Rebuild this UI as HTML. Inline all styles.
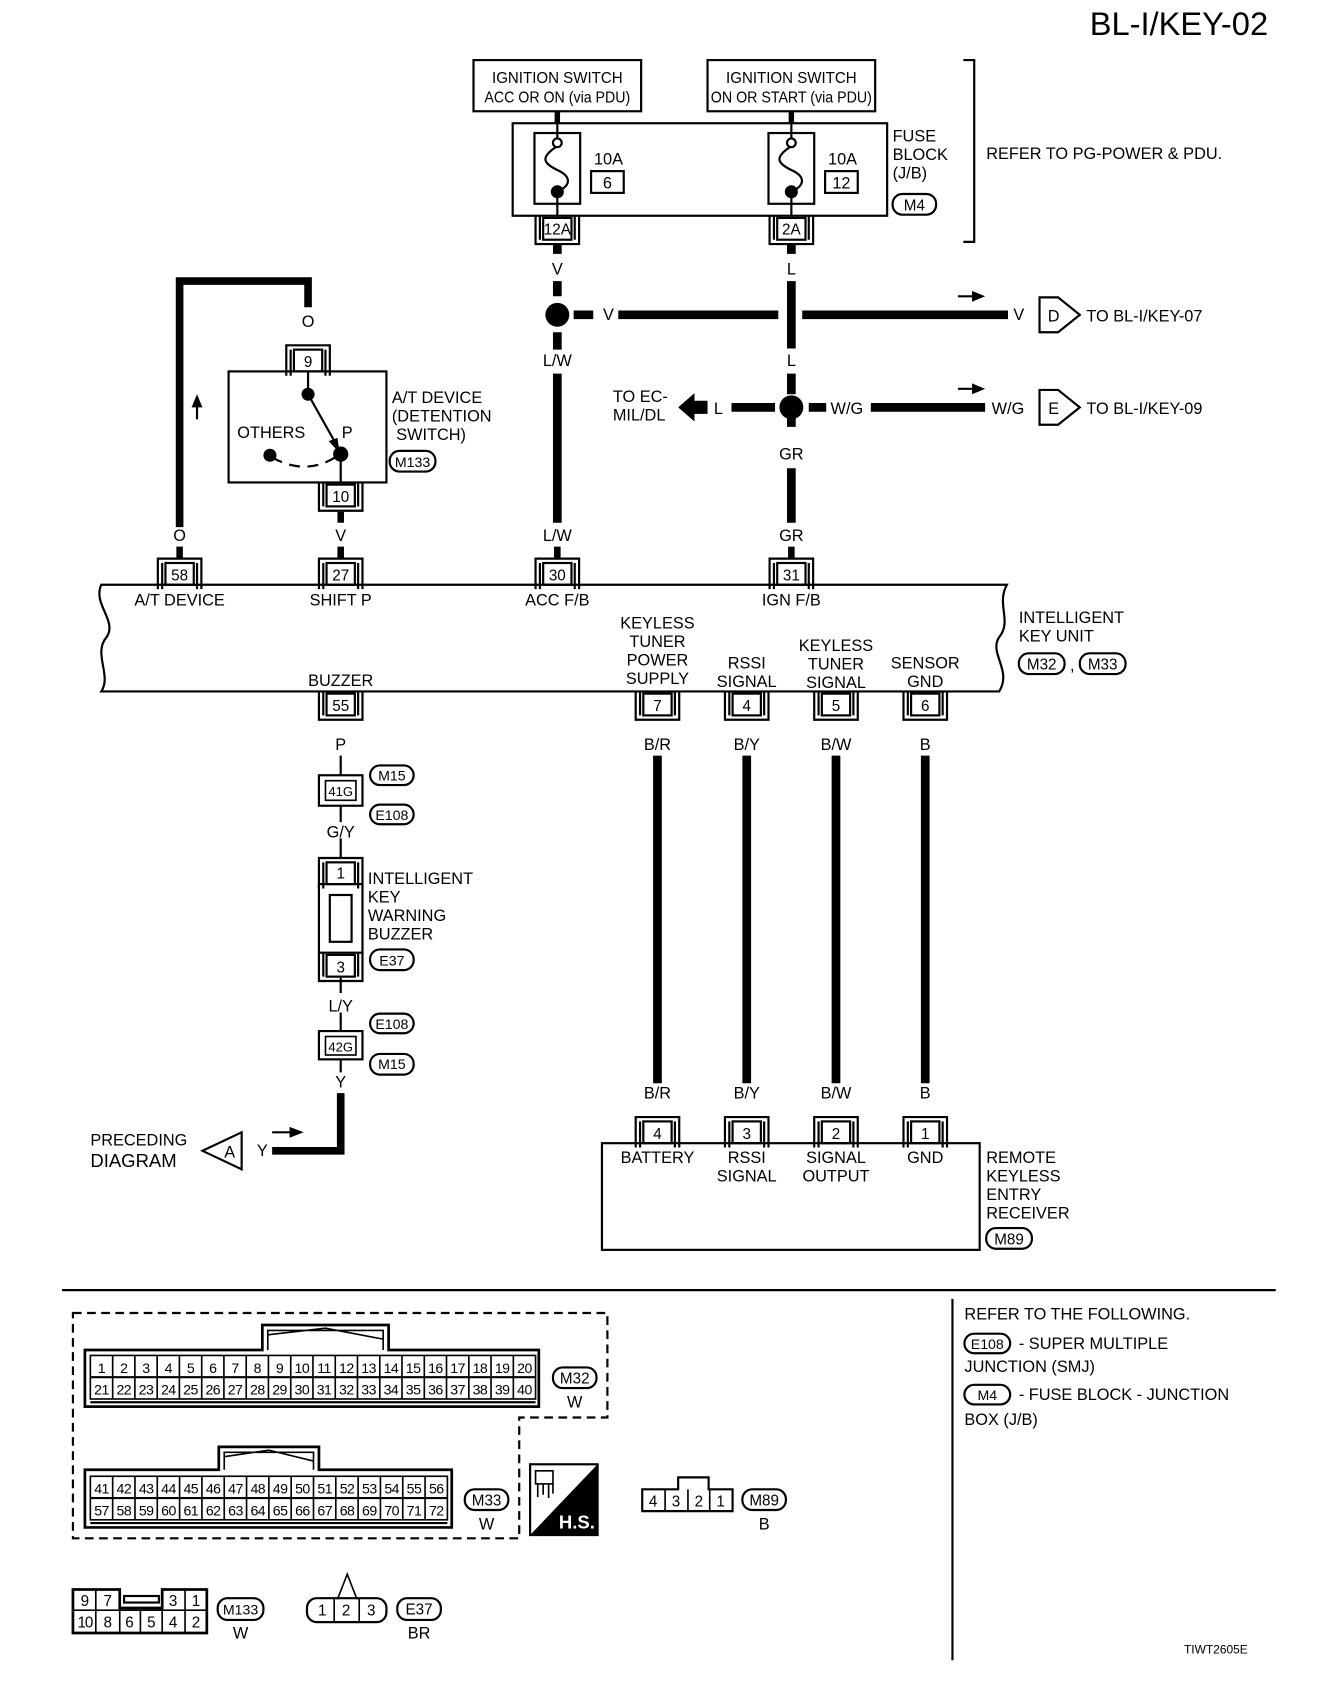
<!DOCTYPE html>
<html><head><meta charset="utf-8"><style>
html,body{margin:0;padding:0;background:#fff;}
svg{display:block;}
text{font-family:"Liberation Sans",sans-serif;fill:#000;}
</style></head><body>
<svg width="1328" height="1704" viewBox="0 0 1220 1565" xmlns="http://www.w3.org/2000/svg">
<defs>
<g id="ctop"><rect x="-13" y="0" width="26" height="20" fill="#fff" stroke="#000" stroke-width="2"/><path d="M-20 24 V-4 H20 V24 M-16 24 V0 M16 24 V0" fill="none" stroke="#000" stroke-width="2"/></g>
<g id="cbot"><rect x="-13" y="0" width="26" height="20" fill="#fff" stroke="#000" stroke-width="2"/><path d="M-20 -2 V24 H20 V-2 M-16 -2 V20 M16 -2 V20" fill="none" stroke="#000" stroke-width="2"/></g>
</defs>
<g font-size="15">
<text x="1165" y="32" font-size="30" text-anchor="end">BL-I/KEY-02</text>

<rect x="435" y="55" width="154" height="47" fill="none" stroke="#000" stroke-width="2"/>
<text x="512" y="76" text-anchor="middle" font-size="14" textLength="120" lengthAdjust="spacingAndGlyphs">IGNITION SWITCH</text>
<text x="512" y="94" text-anchor="middle" font-size="14" textLength="134" lengthAdjust="spacingAndGlyphs">ACC OR ON (via PDU)</text>
<rect x="650" y="55" width="154" height="47" fill="none" stroke="#000" stroke-width="2"/>
<text x="727" y="76" text-anchor="middle" font-size="14" textLength="120" lengthAdjust="spacingAndGlyphs">IGNITION SWITCH</text>
<text x="727" y="94" text-anchor="middle" font-size="14" textLength="148" lengthAdjust="spacingAndGlyphs">ON OR START (via PDU)</text>
<path d="M512 102 V113 M727 102 V113" stroke="#000" stroke-width="5"/>

<rect x="471" y="113" width="344" height="85" fill="none" stroke="#000" stroke-width="2"/>
<g fill="none" stroke="#000" stroke-width="2">
<rect x="491" y="122" width="42" height="65"/><rect x="706" y="122" width="42" height="65"/>
<path d="M512 113 V128 M512 176 V198 M727 113 V128 M727 176 V198"/>
<path d="M512 134 C495 145, 500 150, 512 156 C525 162, 525 170, 512 176"/>
<path d="M727 134 C710 145, 715 150, 727 156 C740 162, 740 170, 727 176"/>
<circle cx="512" cy="131" r="4" fill="#fff"/><circle cx="727" cy="131" r="4" fill="#fff"/>
<rect x="543" y="157" width="30" height="20"/><rect x="758" y="157" width="30" height="20"/>
</g>
<circle cx="512" cy="176" r="6"/><circle cx="727" cy="176" r="6"/>
<text x="559" y="151" text-anchor="middle">10A</text><text x="558" y="173" text-anchor="middle">6</text>
<text x="774" y="151" text-anchor="middle">10A</text><text x="773" y="173" text-anchor="middle">12</text>
<text x="820" y="130">FUSE</text><text x="820" y="147">BLOCK</text><text x="820" y="164">(J/B)</text>
<rect x="820" y="178" width="40" height="19" rx="9" fill="none" stroke="#000" stroke-width="2"/><text x="840" y="193" text-anchor="middle" font-size="14">M4</text>
<path d="M885 55 H895 V222 H885" fill="none" stroke="#000" stroke-width="2"/>
<text x="906" y="146">REFER TO PG-POWER &amp; PDU.</text>
<use href="#cbot" x="512" y="200"/><text x="512" y="215" text-anchor="middle" font-size="14">12A</text>
<use href="#cbot" x="727" y="200"/><text x="727" y="215" text-anchor="middle" font-size="14">2A</text>

<g stroke="#000" stroke-width="8" fill="none">
<path d="M512 224 V233 M727 224 V233"/>
<path d="M512 258 V272 M512 305 V321 M512 343 V480"/>
<path d="M727 258 V320 M727 343 V362 M727 383 V392 M727 430 V480"/>
<path d="M527 289 H545 M568 289 H715 M737 289 H926"/>
<path d="M672 374 H712 M743 374 H759 M800 374 H905"/>
</g>
<circle cx="512" cy="289" r="11"/><circle cx="727" cy="374" r="11"/>
<text x="512" y="252" text-anchor="middle">V</text><text x="727" y="252" text-anchor="middle">L</text>
<text x="559" y="294" text-anchor="middle">V</text><text x="936" y="294" text-anchor="middle">V</text>
<text x="512" y="336" text-anchor="middle">L/W</text><text x="727" y="336" text-anchor="middle">L</text>
<text x="727" y="422" text-anchor="middle">GR</text>
<text x="512" y="497" text-anchor="middle">L/W</text><text x="727" y="497" text-anchor="middle">GR</text>
<path d="M880 272 H895" stroke="#000" stroke-width="2"/><path d="M893 267 L905 272 L893 277Z"/>
<path d="M880 357 H895" stroke="#000" stroke-width="2"/><path d="M893 352 L905 357 L893 362Z"/>
<path d="M955 273 H972 L992 289 L972 305 H955 Z" fill="none" stroke="#000" stroke-width="2"/><text x="968" y="295" text-anchor="middle">D</text>
<text x="998" y="295">TO BL-I/KEY-07</text>
<path d="M955 358 H972 L992 374 L972 390 H955 Z" fill="none" stroke="#000" stroke-width="2"/><text x="968" y="380" text-anchor="middle">E</text>
<text x="998" y="380">TO BL-I/KEY-09</text>
<text x="778" y="380" text-anchor="middle">W/G</text><text x="926" y="380" text-anchor="middle">W/G</text>
<text x="660" y="380" text-anchor="middle">L</text>
<path d="M623 374 L638 361 V368 H650 V380 H638 V387Z"/>
<text x="563" y="369">TO EC-</text><text x="563" y="386">MIL/DL</text>

<path d="M165 484 V258 H283 V282" fill="none" stroke="#000" stroke-width="7"/>
<text x="283" y="300" text-anchor="middle">O</text>
<path d="M181 385 V372" stroke="#000" stroke-width="2"/><path d="M176 374 L181 362 L186 374Z"/>

<use href="#ctop" x="283" y="321"/><text x="283" y="337" text-anchor="middle" font-size="14">9</text>
<rect x="210" y="341" width="145" height="102" fill="none" stroke="#000" stroke-width="2"/>
<path d="M283 341 V362 M313 417 V443" stroke="#000" stroke-width="2"/>
<path d="M283 362 L310 410" stroke="#000" stroke-width="2"/><path d="M302 405 L312 416 L310 402Z"/>
<path d="M250 420 Q280 437 308 420" fill="none" stroke="#000" stroke-width="2" stroke-dasharray="10 7"/>
<circle cx="283" cy="362" r="6"/><circle cx="313" cy="417" r="7"/><circle cx="248" cy="418" r="6"/>
<text x="218" y="402">OTHERS</text><text x="314" y="402">P</text>
<text x="360" y="370">A/T DEVICE</text><text x="360" y="387">(DETENTION</text><text x="364" y="404">SWITCH)</text>
<rect x="358" y="414" width="42" height="19" rx="9" fill="none" stroke="#000" stroke-width="2"/><text x="379" y="429" text-anchor="middle" font-size="13">M133</text>
<use href="#cbot" x="313" y="445"/><text x="313" y="461" text-anchor="middle" font-size="14">10</text>
<text x="313" y="497" text-anchor="middle">V</text><text x="165" y="497" text-anchor="middle">O</text>
<path d="M313 470 V480" stroke="#000" stroke-width="6"/>
<path d="M165 502 V513 M313 502 V513 M512 502 V513 M727 502 V513" stroke="#000" stroke-width="6"/>

<use href="#ctop" x="165" y="517"/><text x="165" y="533" text-anchor="middle" font-size="14">58</text>
<use href="#ctop" x="313" y="517"/><text x="313" y="533" text-anchor="middle" font-size="14">27</text>
<use href="#ctop" x="512" y="517"/><text x="512" y="533" text-anchor="middle" font-size="14">30</text>
<use href="#ctop" x="727" y="517"/><text x="727" y="533" text-anchor="middle" font-size="14">31</text>

<path d="M93 537 H925 C915 555, 930 570, 918 585 C908 600, 930 615, 918 635 H93 C103 620, 85 600, 98 585 C108 570, 85 555, 93 537 Z" fill="none" stroke="#000" stroke-width="2"/>
<text x="165" y="556" text-anchor="middle">A/T DEVICE</text><text x="313" y="556" text-anchor="middle">SHIFT P</text>
<text x="512" y="556" text-anchor="middle">ACC F/B</text><text x="727" y="556" text-anchor="middle">IGN F/B</text>
<text x="313" y="630" text-anchor="middle">BUZZER</text>
<text x="604" y="577" text-anchor="middle">KEYLESS</text><text x="604" y="594" text-anchor="middle">TUNER</text><text x="604" y="611" text-anchor="middle">POWER</text><text x="604" y="628" text-anchor="middle">SUPPLY</text>
<text x="686" y="614" text-anchor="middle">RSSI</text><text x="686" y="631" text-anchor="middle">SIGNAL</text>
<text x="768" y="598" text-anchor="middle">KEYLESS</text><text x="768" y="615" text-anchor="middle">TUNER</text><text x="768" y="632" text-anchor="middle">SIGNAL</text>
<text x="850" y="614" text-anchor="middle">SENSOR</text><text x="850" y="631" text-anchor="middle">GND</text>
<text x="936" y="572">INTELLIGENT</text><text x="936" y="589">KEY UNIT</text>
<rect x="936" y="600" width="42" height="19" rx="9" fill="none" stroke="#000" stroke-width="2"/><text x="957" y="615" text-anchor="middle" font-size="14">M32</text>
<text x="983" y="616">,</text>
<rect x="992" y="600" width="42" height="19" rx="9" fill="none" stroke="#000" stroke-width="2"/><text x="1013" y="615" text-anchor="middle" font-size="14">M33</text>

<use href="#cbot" x="313" y="637"/><text x="313" y="653" text-anchor="middle" font-size="14">55</text>
<use href="#cbot" x="604" y="637"/><text x="604" y="653" text-anchor="middle" font-size="14">7</text>
<use href="#cbot" x="686" y="637"/><text x="686" y="653" text-anchor="middle" font-size="14">4</text>
<use href="#cbot" x="768" y="637"/><text x="768" y="653" text-anchor="middle" font-size="14">5</text>
<use href="#cbot" x="850" y="637"/><text x="850" y="653" text-anchor="middle" font-size="14">6</text>
<text x="313" y="689" text-anchor="middle">P</text>
<text x="604" y="689" text-anchor="middle">B/R</text><text x="686" y="689" text-anchor="middle">B/Y</text><text x="768" y="689" text-anchor="middle">B/W</text><text x="850" y="689" text-anchor="middle">B</text>
<path d="M604 694 V995 M686 694 V995 M768 694 V995 M850 694 V995" stroke="#000" stroke-width="8"/>
<text x="604" y="1009" text-anchor="middle">B/R</text><text x="686" y="1009" text-anchor="middle">B/Y</text><text x="768" y="1009" text-anchor="middle">B/W</text><text x="850" y="1009" text-anchor="middle">B</text>
<use href="#ctop" x="604" y="1030"/><text x="604" y="1046" text-anchor="middle" font-size="14">4</text>
<use href="#ctop" x="686" y="1030"/><text x="686" y="1046" text-anchor="middle" font-size="14">3</text>
<use href="#ctop" x="768" y="1030"/><text x="768" y="1046" text-anchor="middle" font-size="14">2</text>
<use href="#ctop" x="850" y="1030"/><text x="850" y="1046" text-anchor="middle" font-size="14">1</text>
<rect x="553" y="1050" width="347" height="98" fill="none" stroke="#000" stroke-width="2"/>
<text x="604" y="1068" text-anchor="middle">BATTERY</text>
<text x="686" y="1068" text-anchor="middle">RSSI</text><text x="686" y="1085" text-anchor="middle">SIGNAL</text>
<text x="768" y="1068" text-anchor="middle">SIGNAL</text><text x="768" y="1085" text-anchor="middle">OUTPUT</text>
<text x="850" y="1068" text-anchor="middle">GND</text>
<text x="906" y="1068">REMOTE</text><text x="906" y="1085">KEYLESS</text><text x="906" y="1102">ENTRY</text><text x="906" y="1119">RECEIVER</text>
<rect x="906" y="1128" width="42" height="19" rx="9" fill="none" stroke="#000" stroke-width="2"/><text x="927" y="1143" text-anchor="middle" font-size="14">M89</text>

<path d="M313 694 V712 M313 740 V755 M313 770 V788 M313 898 V912 M313 930 V947 M313 973 V985" stroke="#000" stroke-width="2"/>
<rect x="293" y="712" width="40" height="28" fill="none" stroke="#000" stroke-width="2"/><rect x="299" y="717" width="28" height="18" fill="none" stroke="#000" stroke-width="1.5"/><text x="313" y="731" text-anchor="middle" font-size="12">41G</text>
<rect x="340" y="703" width="40" height="18" rx="9" fill="none" stroke="#000" stroke-width="2"/><text x="360" y="717" text-anchor="middle" font-size="13">M15</text>
<rect x="340" y="739" width="40" height="18" rx="9" fill="none" stroke="#000" stroke-width="2"/><text x="360" y="753" text-anchor="middle" font-size="13">E108</text>
<text x="313" y="769" text-anchor="middle">G/Y</text>
<use href="#ctop" x="313" y="792"/><text x="313" y="807" text-anchor="middle" font-size="14">1</text>
<rect x="293" y="812" width="40" height="63" fill="none" stroke="#000" stroke-width="2"/>
<rect x="303" y="822" width="20" height="43" fill="none" stroke="#000" stroke-width="2"/>
<use href="#cbot" x="313" y="877"/><text x="313" y="893" text-anchor="middle" font-size="14">3</text>
<text x="338" y="812">INTELLIGENT</text><text x="338" y="829">KEY</text><text x="338" y="846">WARNING</text><text x="338" y="863">BUZZER</text>
<rect x="340" y="872" width="40" height="19" rx="9" fill="none" stroke="#000" stroke-width="2"/><text x="360" y="887" text-anchor="middle" font-size="13">E37</text>
<text x="313" y="929" text-anchor="middle">L/Y</text>
<rect x="340" y="931" width="40" height="18" rx="9" fill="none" stroke="#000" stroke-width="2"/><text x="360" y="945" text-anchor="middle" font-size="13">E108</text>
<rect x="293" y="947" width="40" height="26" fill="none" stroke="#000" stroke-width="2"/><rect x="299" y="952" width="28" height="17" fill="none" stroke="#000" stroke-width="1.5"/><text x="313" y="966" text-anchor="middle" font-size="12">42G</text>
<rect x="340" y="968" width="40" height="19" rx="9" fill="none" stroke="#000" stroke-width="2"/><text x="360" y="982" text-anchor="middle" font-size="13">M15</text>
<text x="313" y="999" text-anchor="middle">Y</text>
<path d="M313 1004 V1057 H250" fill="none" stroke="#000" stroke-width="7"/>
<path d="M250 1040 H268" stroke="#000" stroke-width="2"/><path d="M266 1035 L279 1040 L266 1045Z"/>
<text x="241" y="1062" text-anchor="middle">Y</text>
<path d="M222 1040 V1074 L186 1057 Z" fill="none" stroke="#000" stroke-width="2"/><text x="211" y="1063" text-anchor="middle">A</text>
<text x="83" y="1052">PRECEDING</text><text x="83" y="1072" font-size="17">DIAGRAM</text>

<path d="M57 1185 H1172" stroke="#000" stroke-width="2"/>
<path d="M875 1193 V1525" stroke="#000" stroke-width="2"/>
<text x="886" y="1212">REFER TO THE FOLLOWING.</text>
<rect x="886" y="1225" width="42" height="18" rx="9" fill="none" stroke="#000" stroke-width="2"/><text x="907" y="1239" text-anchor="middle" font-size="13">E108</text>
<text x="936" y="1239">- SUPER MULTIPLE</text>
<text x="886" y="1260">JUNCTION (SMJ)</text>
<rect x="886" y="1272" width="42" height="18" rx="9" fill="none" stroke="#000" stroke-width="2"/><text x="907" y="1286" text-anchor="middle" font-size="13">M4</text>
<text x="936" y="1286">- FUSE BLOCK - JUNCTION</text>
<text x="886" y="1309">BOX (J/B)</text>

<path d="M67 1206 H558 V1302 H477 V1413 H67 Z" fill="none" stroke="#000" stroke-width="2" stroke-dasharray="8 5"/>

<path d="M78 1240 H241 V1217 H357 V1240 H495 V1292 H78 Z" fill="none" stroke="#000" stroke-width="2.5"/>
<path d="M246 1240 V1222 H352 V1240 M246 1226 L299 1220 L352 1230" fill="none" stroke="#000" stroke-width="1.5"/>
<rect x="83" y="1245" width="409" height="40" fill="none" stroke="#000" stroke-width="1.5"/>
<path d="M83 1265 H492 M83 1288 H492" stroke="#000" stroke-width="2"/>
<path d="M103.5 1245V1285M123.9 1245V1285M144.4 1245V1285M164.8 1245V1285M185.3 1245V1285M205.7 1245V1285M226.2 1245V1285M246.6 1245V1285M267.1 1245V1285M287.5 1245V1285M308 1245V1285M328.4 1245V1285M348.9 1245V1285M369.3 1245V1285M389.8 1245V1285M410.2 1245V1285M430.7 1245V1285M451.1 1245V1285M471.6 1245V1285" stroke="#000" stroke-width="1.5"/>
<g font-size="13" text-anchor="middle" letter-spacing="-0.5">
<text x="93.2" y="1261">1</text><text x="113.7" y="1261">2</text><text x="134.1" y="1261">3</text><text x="154.6" y="1261">4</text><text x="175" y="1261">5</text><text x="195.5" y="1261">6</text><text x="215.9" y="1261">7</text><text x="236.4" y="1261">8</text><text x="256.8" y="1261">9</text><text x="277.3" y="1261">10</text><text x="297.7" y="1261">11</text><text x="318.2" y="1261">12</text><text x="338.6" y="1261">13</text><text x="359.1" y="1261">14</text><text x="379.5" y="1261">15</text><text x="400" y="1261">16</text><text x="420.4" y="1261">17</text><text x="440.9" y="1261">18</text><text x="461.3" y="1261">19</text><text x="481.8" y="1261">20</text>
<text x="93.2" y="1281">21</text><text x="113.7" y="1281">22</text><text x="134.1" y="1281">23</text><text x="154.6" y="1281">24</text><text x="175" y="1281">25</text><text x="195.5" y="1281">26</text><text x="215.9" y="1281">27</text><text x="236.4" y="1281">28</text><text x="256.8" y="1281">29</text><text x="277.3" y="1281">30</text><text x="297.7" y="1281">31</text><text x="318.2" y="1281">32</text><text x="338.6" y="1281">33</text><text x="359.1" y="1281">34</text><text x="379.5" y="1281">35</text><text x="400" y="1281">36</text><text x="420.4" y="1281">37</text><text x="440.9" y="1281">38</text><text x="461.3" y="1281">39</text><text x="481.8" y="1281">40</text>
</g>
<rect x="508" y="1256" width="40" height="19" rx="9" fill="none" stroke="#000" stroke-width="2"/><text x="528" y="1271" text-anchor="middle" font-size="14">M32</text>
<text x="528" y="1293" text-anchor="middle">W</text>

<path d="M78 1350 H201 V1329 H293 V1350 H415 V1403 H78 Z" fill="none" stroke="#000" stroke-width="2.5"/>
<path d="M206 1350 V1334 H288 V1350 M206 1338 L247 1332 L288 1342" fill="none" stroke="#000" stroke-width="1.5"/>
<rect x="83" y="1356" width="328" height="40" fill="none" stroke="#000" stroke-width="1.5"/>
<path d="M83 1376 H411 M83 1399 H411" stroke="#000" stroke-width="2"/>
<path d="M103.5 1356V1396M124 1356V1396M144.5 1356V1396M165 1356V1396M185.5 1356V1396M206 1356V1396M226.5 1356V1396M247 1356V1396M267.5 1356V1396M288 1356V1396M308.5 1356V1396M329 1356V1396M349.5 1356V1396M370 1356V1396M390.5 1356V1396" stroke="#000" stroke-width="1.5"/>
<g font-size="13" text-anchor="middle" letter-spacing="-0.5">
<text x="93.3" y="1372">41</text><text x="113.8" y="1372">42</text><text x="134.3" y="1372">43</text><text x="154.8" y="1372">44</text><text x="175.3" y="1372">45</text><text x="195.8" y="1372">46</text><text x="216.3" y="1372">47</text><text x="236.8" y="1372">48</text><text x="257.3" y="1372">49</text><text x="277.8" y="1372">50</text><text x="298.3" y="1372">51</text><text x="318.8" y="1372">52</text><text x="339.3" y="1372">53</text><text x="359.8" y="1372">54</text><text x="380.3" y="1372">55</text><text x="400.8" y="1372">56</text>
<text x="93.3" y="1392">57</text><text x="113.8" y="1392">58</text><text x="134.3" y="1392">59</text><text x="154.8" y="1392">60</text><text x="175.3" y="1392">61</text><text x="195.8" y="1392">62</text><text x="216.3" y="1392">63</text><text x="236.8" y="1392">64</text><text x="257.3" y="1392">65</text><text x="277.8" y="1392">66</text><text x="298.3" y="1392">67</text><text x="318.8" y="1392">68</text><text x="339.3" y="1392">69</text><text x="359.8" y="1392">70</text><text x="380.3" y="1392">71</text><text x="400.8" y="1392">72</text>
</g>
<rect x="427" y="1368" width="40" height="19" rx="9" fill="none" stroke="#000" stroke-width="2"/><text x="447" y="1383" text-anchor="middle" font-size="14">M33</text>
<text x="447" y="1405" text-anchor="middle">W</text>

<rect x="487" y="1345" width="62" height="65" fill="none" stroke="#000" stroke-width="2"/>
<path d="M549 1345 V1410 H487 Z"/>
<rect x="492" y="1351" width="16" height="12" fill="none" stroke="#000" stroke-width="1.5"/>
<path d="M494 1363 V1375 M499 1363 V1373 M504 1363 V1376 M508 1363 V1372" stroke="#000" stroke-width="1.5"/>
<text x="530" y="1404" text-anchor="middle" font-size="17" font-weight="bold" style="fill:#fff">H.S.</text>

<path d="M590 1368 H623 V1357 H651 V1368 H673 V1388 H590 Z" fill="none" stroke="#000" stroke-width="2"/>
<path d="M611 1368V1388M632 1368V1388M652 1368V1388" stroke="#000" stroke-width="1.5"/>
<g font-size="14" text-anchor="middle"><text x="600" y="1384">4</text><text x="621" y="1384">3</text><text x="642" y="1384">2</text><text x="662" y="1384">1</text></g>
<rect x="682" y="1368" width="40" height="19" rx="9" fill="none" stroke="#000" stroke-width="2"/><text x="702" y="1383" text-anchor="middle" font-size="14">M89</text>
<text x="702" y="1405" text-anchor="middle">B</text>

<path d="M67 1460 H110 V1477 H149 V1460 H190 V1500 H67 Z" fill="none" stroke="#000" stroke-width="2.5"/>
<path d="M67 1479 H190 M88 1460V1500M110 1460V1500M129 1479V1500M149 1460V1500M170 1460V1500" stroke="#000" stroke-width="1.5"/>
<rect x="114" y="1466" width="32" height="6" fill="none" stroke="#000" stroke-width="2"/>
<g font-size="14" text-anchor="middle"><text x="78" y="1475">9</text><text x="99" y="1475">7</text><text x="159" y="1475">3</text><text x="180" y="1475">1</text>
<text x="78" y="1495" letter-spacing="-1">10</text><text x="99" y="1495">8</text><text x="119" y="1495">6</text><text x="139" y="1495">5</text><text x="159" y="1495">4</text><text x="180" y="1495">2</text></g>
<rect x="200" y="1468" width="42" height="20" rx="9" fill="none" stroke="#000" stroke-width="2"/><text x="221" y="1483" text-anchor="middle" font-size="13">M133</text>
<text x="221" y="1505" text-anchor="middle">W</text>

<path d="M310 1469 L319 1446 L328 1469" fill="none" stroke="#000" stroke-width="1.5"/>
<rect x="282" y="1468" width="73" height="22" rx="9" fill="none" stroke="#000" stroke-width="2"/>
<path d="M307 1468V1490M330 1468V1490" stroke="#000" stroke-width="1.5"/>
<g font-size="14" text-anchor="middle"><text x="296" y="1484">1</text><text x="318" y="1484">2</text><text x="341" y="1484">3</text></g>
<rect x="365" y="1468" width="40" height="20" rx="9" fill="none" stroke="#000" stroke-width="2"/><text x="385" y="1483" text-anchor="middle" font-size="14">E37</text>
<text x="385" y="1505" text-anchor="middle">BR</text>

<text x="1117" y="1519" text-anchor="middle" font-size="11">TIWT2605E</text>
</g>
</svg>
</body></html>
